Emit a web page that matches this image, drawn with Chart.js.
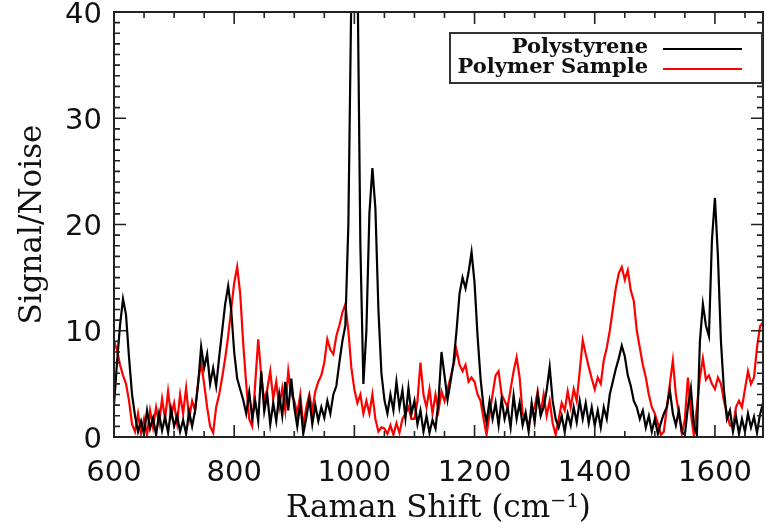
<!DOCTYPE html>
<html>
<head>
<meta charset="utf-8">
<script src="https://cdn.jsdelivr.net/npm/chart.js@4.4.0/dist/chart.umd.min.js"></script>
<style>
  html, body { margin: 0; padding: 0; background: #fff; }
</style>
</head>
<body>
<canvas id="grafico" width="766" height="529"></canvas>
<script>
// espectros, um ponto a cada 5 cm-1 a partir de 600
const shiftStart = 600;
const shiftStep = 5;

const polystyrene = [
  3.0, 7.0, 10.5, 13.0, 11.5, 7.5, 4.0, 2.0, 0.5, 1.5,
  0.3, 2.5, 0.8, 1.8, 0.2, 2.2, 0.6, 1.9, 0.4, 2.6,
  1.0, 2.0, 0.5, 1.6, 0.3, 2.4, 1.0, 2.5, 5.0, 8.5,
  6.5, 7.8, 5.0, 6.5, 4.8, 7.5, 10.0, 12.5, 14.2, 12.0,
  8.0, 5.5, 4.5, 3.5, 2.2, 4.2, 1.8, 3.4, 1.5, 6.2,
  2.4, 4.0, 1.2, 3.2, 1.5, 4.0, 2.0, 5.2, 2.5, 5.5,
  2.8, 1.0, 3.2, 0.3, 1.8, 3.6, 1.2, 3.0, 1.5, 2.8,
  1.8, 3.4, 2.2, 4.0, 4.8, 7.0, 9.0, 10.5, 20, 42,
  60, 45, 18, 5, 10, 21, 25.3, 21.5, 12, 6,
  3.5, 2.2, 4.0, 2.5, 5.2, 2.8, 4.4, 1.8, 4.6, 2.2,
  3.4, 1.2, 2.5, 0.5, 2.0, 0.4, 1.6, 0.8, 3.4, 8.0,
  5.8, 3.5, 5.2, 7.0, 10.0, 13.5, 15.0, 14.0, 15.5, 17.4,
  14.5, 9.5, 5.5, 2.8, 1.4, 3.4, 1.7, 3.2, 1.1, 3.6,
  1.7, 2.8, 0.9, 3.9, 1.7, 3.2, 1.1, 2.3, 0.5, 3.2,
  1.4, 4.0, 2.0, 2.8, 4.4, 6.6, 3.4, 1.7, 0.9, 2.0,
  0.5, 2.2, 1.1, 2.8, 1.4, 3.4, 1.7, 3.2, 1.3, 2.8,
  1.1, 2.5, 0.9, 2.8, 1.7, 4.0, 5.2, 6.4, 7.4, 8.6,
  7.6, 5.8, 4.8, 3.4, 2.8, 1.7, 2.5, 0.9, 2.0, 0.5,
  1.7, 0.3, 1.3, 2.2, 2.8, 4.4, 2.2, 1.1, 2.5, 0.5,
  0.2, 2.8, 4.6, 1.1, 0.2, 9.0, 12.5, 10.5, 9.5, 18.5,
  22.5, 17, 9.0, 4.4, 1.7, 2.5, 0.5, 2.0, 0.3, 1.7,
  0.5, 2.2, 0.9, 1.9, 0.4, 2.1, 3.2
];

const polymerSample = [
  9.0, 8.2, 6.8, 5.8, 5.0, 3.4, 1.2, 0.5, 2.2, 0.3,
  1.7, 0.2, 2.5, 0.9, 2.8, 1.3, 3.6, 1.7, 4.3, 2.0,
  3.2, 1.3, 4.0, 2.2, 4.6, 1.7, 3.4, 2.5, 5.2, 7.0,
  5.0, 2.8, 1.0, 0.4, 2.8, 4.0, 5.6, 7.4, 9.5, 12.0,
  14.5, 16.0, 13.5, 8.8, 5.0, 1.7, 1.0, 5.0, 9.2, 5.8,
  3.4, 4.5, 6.2, 3.6, 5.2, 2.8, 4.6, 2.5, 6.2, 4.0,
  3.4, 2.2, 4.0, 1.0, 2.8, 4.0, 2.5, 4.3, 5.2, 5.8,
  7.0, 9.2, 8.2, 7.8, 9.5, 10.5, 11.7, 12.5, 10.0, 6.5,
  4.5, 3.2, 4.0, 2.2, 3.4, 2.2, 4.0, 1.7, 0.5, 0.9,
  0.8, 0.3, 1.1, 0.2, 1.3, 0.4, 1.7, 2.2, 2.8, 1.7,
  1.7, 3.4, 7.0, 4.0, 2.8, 4.5, 2.2, 4.0, 2.5, 4.3,
  3.4, 4.5, 5.6, 6.8, 8.2, 6.8, 6.2, 6.8, 5.2, 5.6,
  5.2, 4.0, 3.4, 1.7, 0.2, 2.2, 4.0, 5.8, 6.2, 4.0,
  3.4, 2.8, 4.5, 6.2, 7.5, 5.6, 2.2, 1.7, 1.1, 2.2,
  2.8, 4.3, 2.2, 4.0, 2.0, 3.4, 1.3, 0.2, 1.7, 3.2,
  2.5, 4.3, 2.8, 4.5, 3.4, 6.2, 9.1, 7.8, 6.6, 5.5,
  4.5, 5.6, 5.0, 7.2, 8.4, 10.0, 12.0, 14.0, 15.4, 16.0,
  14.8, 15.7, 13.8, 12.8, 10.0, 8.4, 6.8, 5.6, 4.0, 2.8,
  2.2, 1.3, 0.2, 0.5, 2.8, 5.0, 7.2, 4.0, 2.2, 0.3,
  1.7, 5.6, 2.2, 0.1, 2.8, 5.6, 7.4, 5.4, 5.8, 5.0,
  4.5, 5.6, 5.0, 3.4, 2.2, 1.1, 0.9, 2.8, 3.4, 2.8,
  4.5, 6.2, 5.0, 5.6, 8.4, 10.4, 10.8
];

const xTicks = [600, 800, 1000, 1200, 1400, 1600];
const yTicks = [0, 10, 20, 30, 40];
const xMinorStep = 50;
const yMinorStep = 1;

const toPoints = serie => serie.map((v, i) => ({ x: shiftStart + i * shiftStep, y: v }));

// moldura com marcas para dentro nos quatro lados
const molduraTicks = {
    id: 'molduraTicks',
    afterDraw(chart) {
        const { ctx, chartArea: a, scales: { x, y } } = chart;
        ctx.save();
        ctx.strokeStyle = '#222';
        ctx.lineWidth = 2;
        ctx.strokeRect(a.left, a.top, a.right - a.left, a.bottom - a.top);
        ctx.lineWidth = 1.6;
        ctx.beginPath();
        for (let v = x.min; v <= x.max; v += xMinorStep) {
            const px = x.getPixelForValue(v);
            const len = xTicks.includes(v) ? 12 : 6;
            ctx.moveTo(px, a.bottom); ctx.lineTo(px, a.bottom - len);
            ctx.moveTo(px, a.top); ctx.lineTo(px, a.top + len);
        }
        for (let v = y.min; v <= y.max; v += yMinorStep) {
            const py = y.getPixelForValue(v);
            const len = yTicks.includes(v) ? 12 : 6;
            ctx.moveTo(a.left, py); ctx.lineTo(a.left + len, py);
            ctx.moveTo(a.right, py); ctx.lineTo(a.right - len, py);
        }
        ctx.stroke();
        ctx.restore();
    }
};

// legenda no estilo da figura: texto alinhado a direita, linha depois
const legendaCaixa = {
    id: 'legendaCaixa',
    afterDraw(chart) {
        const { ctx, chartArea: a } = chart;
        const right = a.right - 1;
        const top = a.top + 21;
        ctx.save();
        ctx.fillStyle = '#fff';
        ctx.fillRect(right - 312, top, 312, 50);
        ctx.strokeStyle = '#333';
        ctx.lineWidth = 2;
        ctx.strokeRect(right - 312, top, 312, 50);
        ctx.font = 'bold 21px "DejaVu Serif"';
        ctx.textAlign = 'right';
        ctx.textBaseline = 'middle';
        chart.data.datasets.forEach((ds, i) => {
            const yy = top + 15 + i * 20;
            ctx.fillStyle = '#111';
            ctx.fillText(ds.label, right - 114, yy);
            ctx.strokeStyle = ds.borderColor;
            ctx.lineWidth = 2;
            ctx.beginPath();
            ctx.moveTo(right - 99, yy + 1);
            ctx.lineTo(right - 20, yy + 1);
            ctx.stroke();
        });
        ctx.restore();
    }
};

const ctx = document.getElementById('grafico').getContext('2d');
new Chart(ctx, {
    type: 'line',
    data: {
        datasets: [{
            label: 'Polystyrene',
            data: toPoints(polystyrene),
            borderColor: '#000000',
            borderWidth: 2.2,
            pointRadius: 0
        }, {
            label: 'Polymer Sample',
            data: toPoints(polymerSample),
            borderColor: '#ff0000',
            borderWidth: 2.2,
            pointRadius: 0
        }]
    },
    options: {
        responsive: false,
        animation: false,
        layout: { padding: { top: 12, right: 3, left: 0, bottom: 0 } },
        plugins: {
            legend: { display: false },
            tooltip: { enabled: false }
        },
        scales: {
            x: {
                type: 'linear',
                min: 600,
                max: 1680,
                grid: { display: false, drawTicks: false },
                border: { display: false },
                afterBuildTicks: scale => { scale.ticks = xTicks.map(v => ({ value: v })); },
                afterFit: scale => { scale.height = 92; scale.paddingLeft = 0; scale.paddingRight = 0; },
                ticks: {
                    padding: 19,
                    maxRotation: 0,
                    color: '#111',
                    callback: v => String(v),
                    font: { family: '"DejaVu Sans"', size: 29 }
                },
                title: {
                    display: true,
                    text: 'Raman Shift (cm⁻¹)',
                    color: '#111',
                    padding: { top: 0, bottom: 1 },
                    font: { family: '"DejaVu Serif"', size: 31 }
                }
            },
            y: {
                min: 0,
                max: 40,
                grid: { display: false, drawTicks: false },
                border: { display: false },
                afterBuildTicks: scale => { scale.ticks = yTicks.map(v => ({ value: v })); },
                afterFit: scale => { scale.width = 114; scale.paddingTop = 0; scale.paddingBottom = 0; },
                ticks: {
                    padding: 12,
                    labelOffset: 3,
                    color: '#111',
                    callback: v => String(v),
                    font: { family: '"DejaVu Sans"', size: 29 }
                },
                title: {
                    display: true,
                    text: 'Signal/Noise',
                    color: '#111',
                    padding: { top: 14, bottom: 0 },
                    font: { family: '"DejaVu Serif"', size: 31 }
                }
            }
        }
    },
    plugins: [molduraTicks, legendaCaixa]
});
</script>
</body>
</html>
